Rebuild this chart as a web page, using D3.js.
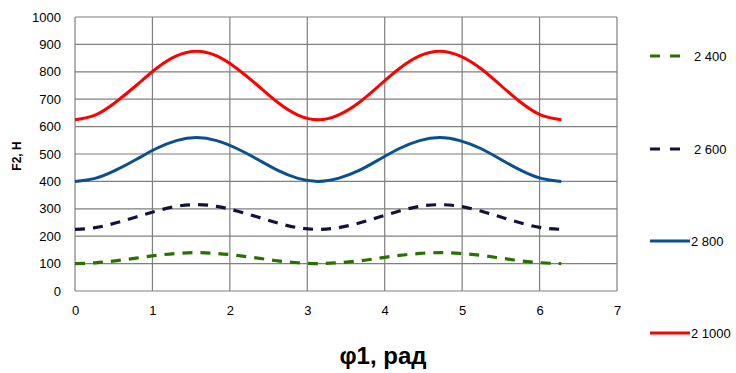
<!DOCTYPE html>
<html>
<head>
<meta charset="utf-8">
<script src="https://cdn.jsdelivr.net/npm/d3@7"></script>
<style>
  html, body { margin: 0; padding: 0; background: #fff; }
  svg text { font-family: "Liberation Sans", Arial, sans-serif; fill: #000; }
</style>
</head>
<body>
<svg id="chart" width="736" height="373"></svg>
<script>
// φ1 sample points, rad
const phi = [0, 0.26, 0.52, 0.79, 1.05, 1.31, 1.57, 1.83, 2.09, 2.36, 2.62, 2.88, 3.14,
             3.40, 3.67, 3.93, 4.19, 4.45, 4.71, 4.97, 5.24, 5.50, 5.76, 6.02, 6.28];

// F2 values, N
const f2_400  = [100, 103, 110, 120, 130, 137, 140, 137, 130, 120, 110, 103, 100,
                 103, 110, 120, 130, 137, 140, 137, 130, 120, 110, 103, 100];
const f2_600  = [225, 231, 248, 270, 292, 309, 315, 309, 292, 270, 248, 231, 225,
                 231, 248, 270, 292, 309, 315, 309, 292, 270, 248, 231, 225];
const f2_800  = [400, 411, 440, 480, 520, 549, 560, 549, 520, 480, 440, 411, 400,
                 411, 440, 480, 520, 549, 560, 549, 520, 480, 440, 411, 400];
const f2_1000 = [625, 642, 688, 750, 812, 858, 875, 858, 812, 750, 688, 642, 625,
                 642, 688, 750, 812, 858, 875, 858, 812, 750, 688, 642, 625];

const seriesNames = ["2 400", "2 600", "2 800", "2 1000"];
const seriesValues = [f2_400, f2_600, f2_800, f2_1000];
const seriesColors = ["#2a7000", "#12123c", "#0b4f8e", "#ff0000"];
const seriesDashed = [true, true, false, false];

const xTicks = [0, 1, 2, 3, 4, 5, 6, 7];
const yTicks = [0, 100, 200, 300, 400, 500, 600, 700, 800, 900, 1000];

const svg = d3.select("#chart");
const plotLeft = 75, plotRight = 617, plotTop = 17, plotBottom = 291;

const x = d3.scaleLinear().domain([0, 7]).range([plotLeft, plotRight]);
const y = d3.scaleLinear().domain([0, 1000]).range([plotBottom, plotTop]);

// grid
const grid = svg.append("g");
grid.selectAll("line.h").data(yTicks).join("line").attr("class", "h")
  .attr("x1", plotLeft).attr("x2", plotRight)
  .attr("y1", d => y(d)).attr("y2", d => y(d))
  .attr("stroke", "#7f7f7f").attr("stroke-width", 1.2);
grid.selectAll("line.v").data(xTicks).join("line").attr("class", "v")
  .attr("y1", plotTop).attr("y2", plotBottom)
  .attr("x1", d => x(d)).attr("x2", d => x(d))
  .attr("stroke", "#7f7f7f").attr("stroke-width", 1.2);

// axes
const xAxis = svg.append("g").attr("transform", `translate(0,${plotBottom})`)
  .call(d3.axisBottom(x).tickValues(xTicks).tickFormat(d3.format("d")).tickSize(0).tickPadding(15));
const yAxis = svg.append("g").attr("transform", `translate(${plotLeft},0)`)
  .call(d3.axisLeft(y).tickValues(yTicks).tickFormat(d3.format("d")).tickSize(0).tickPadding(14));
[xAxis, yAxis].forEach(a => {
  a.select(".domain").remove();
  a.selectAll("text").attr("font-size", 13).attr("font-family", "Liberation Sans, Arial, sans-serif");
});

// series
const line = d3.line().x((d, i) => x(phi[i])).y(d => y(d)).curve(d3.curveNatural);
seriesValues.forEach((vals, k) => {
  svg.append("path").datum(vals)
    .attr("d", line)
    .attr("fill", "none")
    .attr("stroke", seriesColors[k])
    .attr("stroke-width", seriesDashed[k] ? 3.2 : 3)
    .attr("stroke-dasharray", seriesDashed[k] ? "10,8" : null);
});

// legend
const legY = [56, 149, 241, 333];
seriesNames.forEach((name, k) => {
  const g = svg.append("g").attr("transform", `translate(650,${legY[k]})`);
  g.append("line").attr("x1", 0).attr("x2", seriesDashed[k] ? 32 : 40).attr("y1", 0).attr("y2", 0)
    .attr("stroke", seriesColors[k]).attr("stroke-width", 3)
    .attr("stroke-dasharray", seriesDashed[k] ? "10,10" : null);
  g.append("text").attr("x", seriesDashed[k] ? 44 : 41).attr("y", 0).attr("dy", "0.35em")
    .attr("font-size", 13).text(name);
});

// axis titles
svg.append("text").attr("transform", "translate(21,156) rotate(-90)")
  .attr("text-anchor", "middle").attr("font-size", 12).attr("font-weight", "bold").text("F2, Н");
svg.append("text").attr("x", 383).attr("y", 364)
  .attr("text-anchor", "middle").attr("font-size", 24).attr("font-weight", "bold").text("φ1, рад");
</script>
</body>
</html>
